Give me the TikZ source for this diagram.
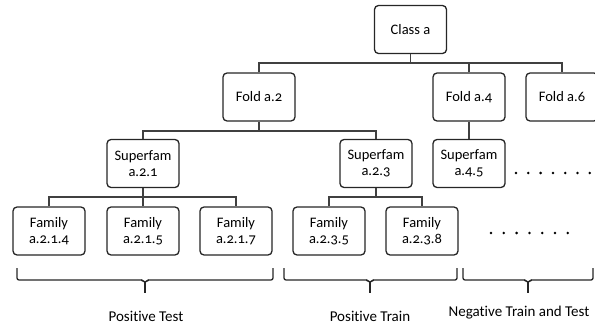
\documentclass[tikz,border=0pt]{standalone}
\usepackage{fontspec}
\setmainfont{Carlito}[Numbers=OldStyle,Ligatures=NoCommon]
\begin{document}
\begin{tikzpicture}[x=1pt,y=-1pt,
  box/.style={draw=black!85,line width=1.3pt,rounded corners=4pt,minimum width=72pt,minimum height=48pt,inner sep=1pt,align=center,font=\fontsize{14.5}{15.5}\selectfont,fill=white},
  conn/.style={draw=black!75,line width=1.1pt},
  brc/.style={draw=black!85,line width=1.3pt,rounded corners=2pt},
  lbl/.style={font=\fontsize{15}{16}\selectfont,inner sep=0pt,anchor=base}]
\useasboundingbox (0,0) rectangle (595,324);
% nodes
\node[box] (ca) at (410.5,29.5) {Class a};
\node[box] (f2) at (259,97) {Fold a.2};
\node[box] (f4) at (469,97) {Fold a.4};
\node[box] (f6) at (562,97) {Fold a.6};
\node[box] (s21) at (143,163.5) {Superfam\\a.2.1};
\node[box] (s23) at (376,163.5) {Superfam\\a.2.3};
\node[box] (s45) at (469,163.5) {Superfam\\a.4.5};
\node[box] (a214) at (49,231) {Family\\a.2.1.4};
\node[box] (a215) at (143,231) {Family\\a.2.1.5};
\node[box] (a217) at (236,231) {Family\\a.2.1.7};
\node[box] (a235) at (329,231) {Family\\a.2.3.5};
\node[box] (a238) at (422,231) {Family\\a.2.3.8};
% connectors
\coordinate (b1) at (410.5,63);
\draw[conn] (ca.south) -- (b1);
\draw[conn] (f2.north) |- (b1) -| (f6.north);
\draw[conn] (f4.north) -- (f4.north |- b1);
\coordinate (b2) at (259,131);
\draw[conn] (f2.south) -- (b2);
\draw[conn] (s21.north) |- (b2) -| (s23.north);
\draw[conn] (f4.south) -- (s45.north);
\coordinate (b3) at (143,197);
\draw[conn] (s21.south) -- (b3);
\draw[conn] (a214.north) |- (b3) -| (a217.north);
\draw[conn] (a215.north) -- (a215.north |- b3);
\coordinate (b4) at (376,197);
\draw[conn] (s23.south) -- (b4);
\draw[conn] (a235.north) |- (b4) -| (a238.north);
% dots
\foreach \i in {0,...,6} {
  \fill (516+\i*12.3,173) circle (1.4pt);
  \fill (491+\i*12.8,233) circle (1.4pt);
}
% braces
\coordinate (t1) at (145,293);
\coordinate (t2) at (370,293);
\coordinate (t3) at (528,293);
\draw[brc] (17,268) -- (17,280) -- (143,280) -- (145,283) -- (147,280) -- (273,280) -- (273,268);
\draw[brc] (145,282) -- (t1);
\draw[brc] (284,268) -- (284,280) -- (368,280) -- (370,283) -- (372,280) -- (457,280) -- (457,268);
\draw[brc] (370,282) -- (t2);
\draw[brc] (463,268) -- (463,280) -- (526,280) -- (528,283) -- (530,280) -- (593,280) -- (593,268);
\draw[brc] (528,282) -- (t3);
% labels
\node[lbl] (l1) at (146,321) {Positive Test};
\node[lbl] (l2) at (370,321) {Positive Train};
\node[lbl] (l3) at (519,316) {Negative Train and Test};
\end{tikzpicture}
\end{document}
